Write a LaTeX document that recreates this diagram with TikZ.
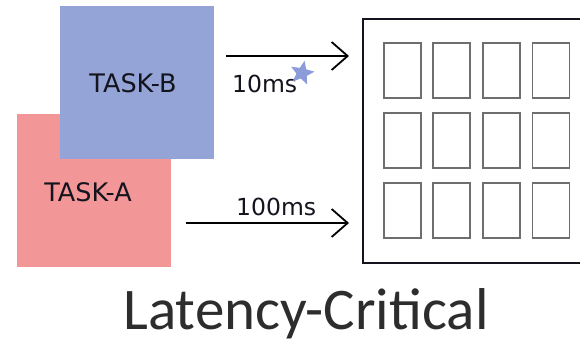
\documentclass[tikz,border=0pt]{standalone}
\usepackage{fontspec}
\setmainfont{DejaVu Sans}
\newfontfamily\titlefont{Carlito}
\usetikzlibrary{arrows.meta,shapes.geometric}
\definecolor{taskblue}{RGB}{148,164,214}
\definecolor{taskpink}{RGB}{242,150,152}
\definecolor{starblue}{RGB}{140,156,218}
\definecolor{inkdark}{RGB}{20,20,30}
\definecolor{titlegray}{RGB}{45,45,45}
\definecolor{cellgray}{RGB}{110,110,110}
\tikzset{
  taskbox/.style={draw=none, minimum width=154pt, minimum height=153pt, inner sep=0pt},
  tasklabel/.style={font=\fontsize{25.5}{30}\selectfont, text=inkdark, inner sep=0pt},
  msglabel/.style={font=\fontsize{23.5}{28}\selectfont, text=inkdark, inner sep=0pt, anchor=base west},
  sendarrow/.style={line width=1.8pt, -{Straight Barb[length=16pt, width=28pt, line width=1.8pt]}},
  cell/.style={draw=cellgray, line width=1.2pt, minimum width=37pt, minimum height=55pt, inner sep=0pt},
}
\begin{document}
\begin{tikzpicture}[x=1pt,y=1pt]
\useasboundingbox (0,0) rectangle (580,-343);
% the two tasks
\node[taskbox, fill=taskpink, anchor=north west] (taskA) at (17,-114) {};
\node[taskbox, fill=taskblue, anchor=north west] (taskB) at (60,-6) {};
\node[tasklabel] (labA) at (88,-192) {TASK-A};
\node[tasklabel] (labB) at (133,-83) {TASK-B};
% request arrows
\coordinate (srcB) at (226,-56);
\coordinate (dstB) at (349,-56);
\coordinate (srcA) at (186,-223);
\coordinate (dstA) at (349,-223);
\draw[sendarrow] (srcB) -- (dstB);
\draw[sendarrow] (srcA) -- (dstA);
\node[msglabel] (latB) at (232,-92) {10ms};
\node[msglabel] (latA) at (236,-215) {100ms};
% five-pointed star next to the 10ms label
\coordinate (mark) at (302,-73);
\fill[starblue, shift={(mark)}, rotate=-12]
  (90:12.5) -- (126:5.6) -- (162:12.5) -- (198:5.6) -- (234:12.5) -- (270:5.6)
  -- (306:12.5) -- (342:5.6) -- (18:12.5) -- (54:5.6) -- cycle;
% server with its grid of cores
\draw[line width=2pt, draw=inkdark] (363,-19) rectangle (600,-263);
\foreach \c/\cx in {1/402.5,2/451.5,3/501.5,4/551} {
  \foreach \r/\cy in {1/-70.5,2/-140.5,3/-210.5} {
    \node[cell] (cell\r\c) at (\cx,\cy) {};
  }
}
% caption
\node[font=\titlefont\fontsize{59}{63}\selectfont, text=titlegray, anchor=base, inner sep=0pt] (caption) at (306,-329) {Latency-Critical};
\end{tikzpicture}
\end{document}
